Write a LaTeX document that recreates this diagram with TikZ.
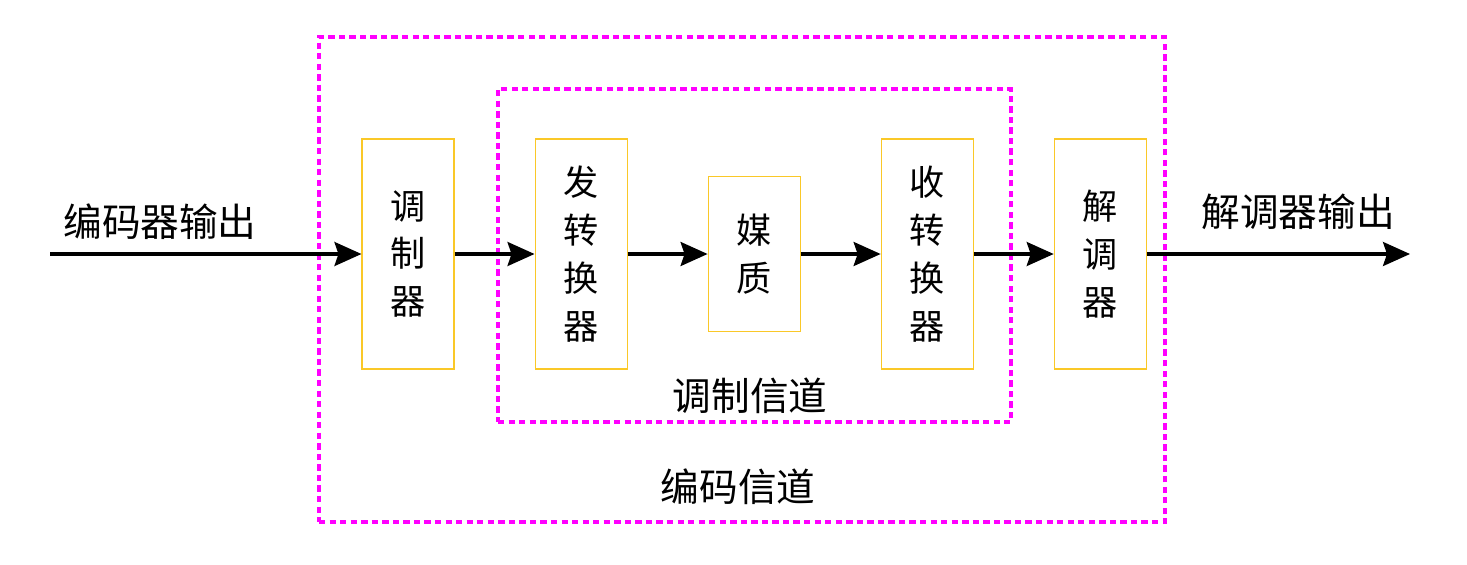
\documentclass[tikz,border=0pt]{standalone}
\usepackage{fontspec}
\setmainfont{Noto Sans CJK SC}
\usetikzlibrary{positioning, arrows.meta}

\definecolor{boxgold}{RGB}{250,200,40}
\definecolor{chanpink}{RGB}{255,0,255}

\begin{document}
\begin{tikzpicture}[
    node distance=1.6cm,
    block/.style={draw=boxgold, line width=0.6pt, minimum width=1.84cm, minimum height=4.6cm,
        align=center, inner sep=0pt, font=\fontsize{20}{27.3}\selectfont},
    chan/.style={draw=chanpink, line width=2.2pt, dash pattern=on 3.6pt off 2.4pt, inner sep=0pt},
    lbl/.style={font=\fontsize{22}{26}\selectfont, inner sep=0pt},
    flow/.style={-{Stealth[length=5.4mm, width=4.8mm, inset=0.8mm]}, line width=1.8pt},
]
\useasboundingbox (0,0) rectangle (29.34,-11.28);

% --- 信道框 ---
\node[chan, minimum width=16.92cm, minimum height=9.7cm] (coding) at (14.84,-5.59) {};
\node[chan, minimum width=10.26cm, minimum height=6.66cm] (modch) at (15.09,-5.11) {};

% --- 方框 ---
\node[block] (mod) at (8.16,-5.08) {调\\制\\器};
\node[block, right=of mod] (tx) {发\\转\\换\\器};
\node[block, right=of tx, minimum height=3.1cm] (med) {媒\\质};
\node[block, right=of med] (rx) {收\\转\\换\\器};
\node[block, right=of rx] (demod) {解\\调\\器};

% --- 输入输出 ---
\coordinate (in) at (1.0,-5.08);
\coordinate (out) at (28.2,-5.08);
\node[lbl] (inlbl) at (3.2,-4.44) {编码器输出};
\node[lbl] (outlbl) at (25.96,-4.24) {解调器输出};

% --- 信道名称 ---
\node[lbl] (modlbl) at (15.0,-7.92) {调制信道};
\node[lbl] (codlbl) at (14.76,-9.74) {编码信道};

% --- 连线 ---
\draw[flow] (in) -- (mod);
\draw[flow] (mod) -- (tx);
\draw[flow] (tx) -- (med);
\draw[flow] (med) -- (rx);
\draw[flow] (rx) -- (demod);
\draw[flow] (demod) -- (out);

\end{tikzpicture}
\end{document}
